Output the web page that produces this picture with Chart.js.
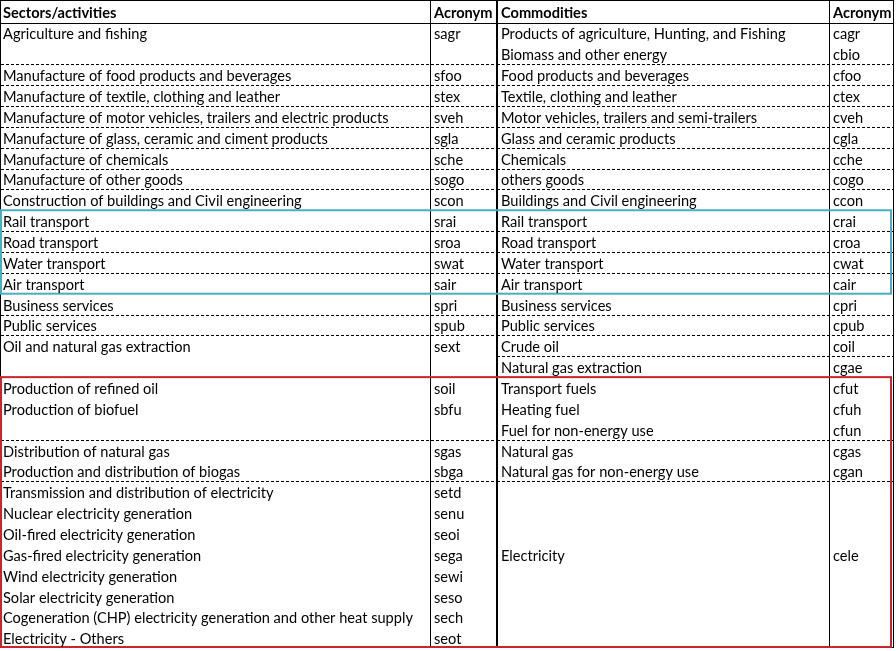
<!DOCTYPE html>
<html>
<head>
<meta charset="utf-8">
<script src="https://cdn.jsdelivr.net/npm/chart.js@4.4.1/dist/chart.umd.min.js"></script>
<style>
  html, body { margin: 0; padding: 0; background: #fff; }
  #wrap { width: 896px; height: 651px; }
</style>
</head>
<body>
<div id="wrap"><canvas id="table"></canvas></div>
<script>
const headers = ['Sectors/activities', 'Acronym', 'Commodities', 'Acronym'];

const sectors = [
  'Agriculture and fishing', '',
  'Manufacture of food products and beverages',
  'Manufacture of textile, clothing and leather',
  'Manufacture of motor vehicles, trailers and electric products',
  'Manufacture of glass, ceramic and ciment products',
  'Manufacture of chemicals',
  'Manufacture of other goods',
  'Construction of buildings and Civil engineering',
  'Rail transport', 'Road transport', 'Water transport', 'Air transport',
  'Business services', 'Public services',
  'Oil and natural gas extraction', '',
  'Production of refined oil', 'Production of biofuel', '',
  'Distribution of natural gas', 'Production and distribution of biogas',
  'Transmission and distribution of electricity',
  'Nuclear electricity generation', 'Oil-fired electricity generation',
  'Gas-fired electricity generation', 'Wind electricity generation',
  'Solar electricity generation',
  'Cogeneration (CHP) electricity generation and other heat supply',
  'Electricity - Others'
];

const sectorCodes = [
  'sagr', '', 'sfoo', 'stex', 'sveh', 'sgla', 'sche', 'sogo', 'scon',
  'srai', 'sroa', 'swat', 'sair', 'spri', 'spub', 'sext', '',
  'soil', 'sbfu', '', 'sgas', 'sbga',
  'setd', 'senu', 'seoi', 'sega', 'sewi', 'seso', 'sech', 'seot'
];

const commodities = [
  'Products of agriculture, Hunting, and Fishing', 'Biomass and other energy',
  'Food products and beverages', 'Textile, clothing and leather',
  'Motor vehicles, trailers and semi-trailers', 'Glass and ceramic products',
  'Chemicals', 'others goods', 'Buildings and Civil engineering',
  'Rail transport', 'Road transport', 'Water transport', 'Air transport',
  'Business services', 'Public services', 'Crude oil', 'Natural gas extraction',
  'Transport fuels', 'Heating fuel', 'Fuel for non-energy use',
  'Natural gas', 'Natural gas for non-energy use',
  '', '', '', 'Electricity', '', '', '', ''
];

const commodityCodes = [
  'cagr', 'cbio', 'cfoo', 'ctex', 'cveh', 'cgla', 'cche', 'cogo', 'ccon',
  'crai', 'croa', 'cwat', 'cair', 'cpri', 'cpub', 'coil', 'cgae',
  'cfut', 'cfuh', 'cfun', 'cgas', 'cgan',
  '', '', '', 'cele', '', '', '', ''
];

// rows after which a dashed rule is drawn (left half / right half)
const leftBreaks = [1, 2, 3, 4, 5, 6, 7, 9, 10, 11, 13, 14, 19, 21];
const rightBreaks = [1, 2, 3, 4, 5, 6, 7, 9, 10, 11, 13, 14, 15, 19, 21];

// layout
const colEdges = [1, 430, 497, 829, 894];
const FONT = 'Lato, "Open Sans", sans-serif';
const FONT_SIZE = 14.6;

const columns = [sectors, sectorCodes, commodities, commodityCodes];
const cells = [];
headers.forEach((h, c) => cells.push({ x: colEdges[c], y: 0, text: h, bold: true }));
columns.forEach((col, c) => {
  col.forEach((t, r) => {
    if (t) cells.push({ x: colEdges[c], y: r + 1, text: t, bold: false });
  });
});

const tablePlugin = {
  id: 'tableDraw',
  afterDatasetsDraw(chart) {
    const { ctx, scales: { x, y } } = chart;
    const px = v => x.getPixelForValue(v);
    const py = v => y.getPixelForValue(v);
    const rows = sectors.length;

    ctx.save();

    // dashed row rules
    ctx.strokeStyle = '#000';
    ctx.lineWidth = 1;
    ctx.setLineDash([3, 2]);
    const dash = (r, x0, x1) => {
      const yy = Math.round(py(r + 2)) + 0.5;
      ctx.beginPath();
      ctx.moveTo(px(x0), yy);
      ctx.lineTo(px(x1), yy);
      ctx.stroke();
    };
    leftBreaks.forEach(r => dash(r, colEdges[0], colEdges[2]));
    rightBreaks.forEach(r => dash(r, colEdges[2], colEdges[4]));
    ctx.setLineDash([]);

    // header rule + outer border
    const top = 0.5;
    const hb = Math.round(py(1)) + 0.5;
    const bot = Math.round(py(rows + 1)) - 0.5;
    ctx.beginPath();
    ctx.moveTo(px(colEdges[0]), hb);
    ctx.lineTo(px(colEdges[4]), hb);
    ctx.stroke();
    ctx.strokeRect(px(colEdges[0]) - 0.5, top, px(colEdges[4]) - px(colEdges[0]), bot - top);

    // column rules
    [[1, 1], [2, 2], [3, 1]].forEach(([c, w]) => {
      ctx.lineWidth = w;
      const xx = Math.round(px(colEdges[c])) + (w === 1 ? 0.5 : 0);
      ctx.beginPath();
      ctx.moveTo(xx, top);
      ctx.lineTo(xx, bot);
      ctx.stroke();
    });

    // highlight boxes
    ctx.lineWidth = 2;
    ctx.strokeStyle = '#4bacc6';
    ctx.strokeRect(px(colEdges[0]), py(10), px(colEdges[4]) - 3 - px(colEdges[0]), py(14) - py(10));
    ctx.strokeStyle = '#c8262a';
    ctx.strokeRect(px(colEdges[0]), py(18), px(colEdges[4]) - 3 - px(colEdges[0]), bot - 0.5 - py(18));

    // cell texts
    ctx.fillStyle = '#000';
    ctx.textBaseline = 'alphabetic';
    ctx.textAlign = 'left';
    const meta = chart.getDatasetMeta(0);
    meta.data.forEach((el, i) => {
      const cell = cells[i];
      ctx.font = (cell.bold ? 'bold ' : '') + FONT_SIZE + 'px ' + FONT;
      const pad = cell.x === colEdges[0] ? 2 : 4;
      const h = py(cell.y + 1) - py(cell.y);
      ctx.fillText(cell.text, el.x + pad, el.y + h - (cell.bold ? 5 : 4));
    });
    ctx.restore();
  }
};

new Chart(document.getElementById('table'), {
  type: 'scatter',
  data: {
    datasets: [{
      data: cells.map(c => ({ x: c.x, y: c.y })),
      pointRadius: 0,
      pointHoverRadius: 0
    }]
  },
  options: {
    responsive: true,
    maintainAspectRatio: false,
    animation: false,
    events: [],
    layout: { padding: 0 },
    plugins: { legend: { display: false }, tooltip: { enabled: false } },
    scales: {
      x: { type: 'linear', display: false, min: 0, max: 896 },
      y: { type: 'linear', display: false, min: -0.08, max: 31.13, reverse: true }
    }
  },
  plugins: [tablePlugin]
});
</script>
</body>
</html>
